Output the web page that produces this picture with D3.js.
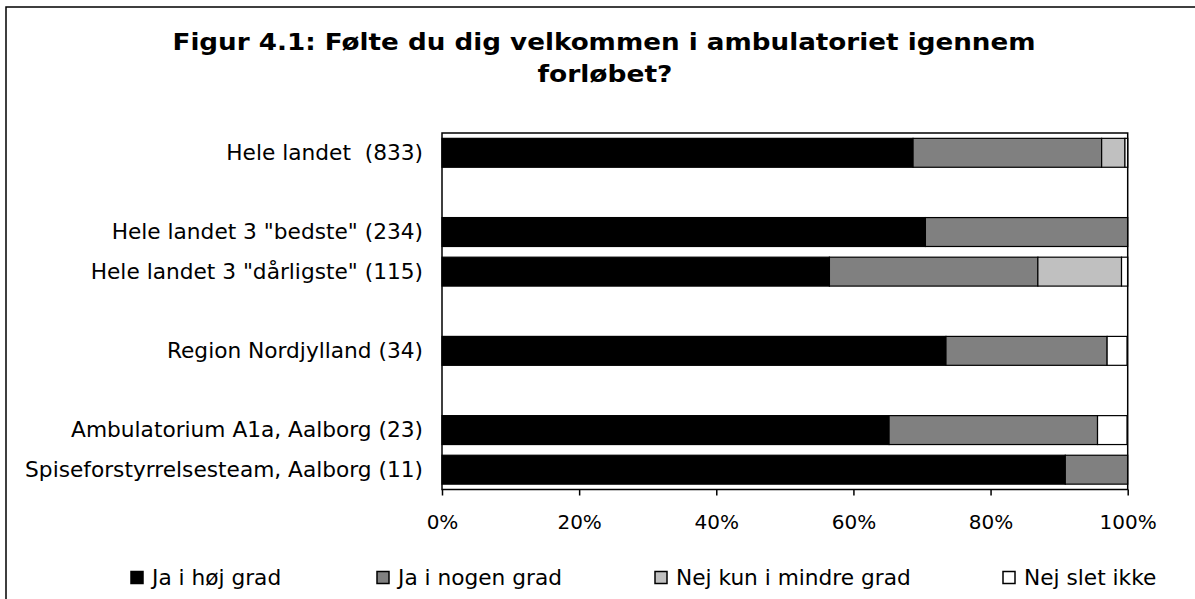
<!DOCTYPE html>
<html>
<head>
<meta charset="utf-8">
<script src="https://cdn.jsdelivr.net/npm/d3@7"></script>
<style>
  body { margin: 0; background: #fff; }
  svg text { font-family: "DejaVu Sans", Verdana, sans-serif; fill: #000; white-space: pre; }
</style>
</head>
<body>
<div id="chart"></div>
<script>
  // categories, blank strings are the empty gaps between groups
  var categories = [
    'Hele landet  (833)',
    '',
    'Hele landet 3 "bedste" (234)',
    'Hele landet 3 "dårligste" (115)',
    '',
    'Region Nordjylland (34)',
    '',
    'Ambulatorium A1a, Aalborg (23)',
    'Spiseforstyrrelsesteam, Aalborg (11)'
  ];

  // percent per answer
  var jaHoej    = [68.7, 0, 70.5, 56.5, 0, 73.5, 0, 65.2, 90.9];
  var jaNogen   = [27.5, 0, 29.5, 30.4, 0, 23.5, 0, 30.4, 9.1];
  var nejMindre = [3.4,  0, 0,    12.2, 0, 0,    0, 0,    0];
  var nejSlet   = [0.4,  0, 0,    0.9,  0, 2.9,  0, 4.3,  0];

  var seriesNames = ['Ja i høj grad', 'Ja i nogen grad', 'Nej kun i mindre grad', 'Nej slet ikke'];
  var seriesColors = ['#000000', '#808080', '#c0c0c0', '#ffffff'];
  var tickValues = [0, 20, 40, 60, 80, 100];

  var width = 1195,
    height = 599;

  var svg = d3.select('#chart')
    .append('svg')
    .attr('width', width)
    .attr('height', height);

  // outer frame (right and bottom edges fall outside the picture)
  svg.append('rect')
    .attr('x', 6)
    .attr('y', 7)
    .attr('width', 1300)
    .attr('height', 700)
    .attr('fill', 'none')
    .attr('stroke', '#000')
    .attr('stroke-width', 1.5);

  // title, stretched a bit since the original font is wider
  var title = svg.append('text')
    .attr('text-anchor', 'middle')
    .attr('font-weight', 'bold')
    .attr('font-size', 23.5);
  title.append('tspan').attr('x', 604).attr('y', 50)
    .attr('textLength', 863).attr('lengthAdjust', 'spacingAndGlyphs')
    .text('Figur 4.1: Følte du dig velkommen i ambulatoriet igennem');
  title.append('tspan').attr('x', 605).attr('y', 82)
    .attr('textLength', 135).attr('lengthAdjust', 'spacingAndGlyphs')
    .text('forløbet?');

  var x = d3.scaleLinear()
    .domain([0, 100])
    .range([442, 1127.7]);

  var y = d3.scaleBand()
    .domain(d3.range(categories.length))
    .range([133, 489.5])
    .paddingInner(0.27)
    .paddingOuter(0.135);

  // stack the four answers
  var rows = categories.map(function(c, i) {
    return { i: i, s0: jaHoej[i], s1: jaNogen[i], s2: nejMindre[i], s3: nejSlet[i] };
  });
  var stack = d3.stack().keys(['s0', 's1', 's2', 's3']);
  var layers = stack(rows);

  var groups = svg.append('g')
    .selectAll('g')
    .data(layers)
    .enter()
    .append('g')
    .attr('fill', function(d, k) { return seriesColors[k]; });

  groups.selectAll('rect')
    .data(function(d) { return d.filter(function(p) { return p[1] - p[0] > 0; }); })
    .enter()
    .append('rect')
    .attr('x', function(p) { return x(p[0]); })
    .attr('y', function(p) { return y(p.data.i); })
    .attr('width', function(p) { return x(p[1]) - x(p[0]); })
    .attr('height', y.bandwidth())
    .attr('stroke', '#000')
    .attr('stroke-width', 1.2);

  // plot area border
  svg.append('rect')
    .attr('x', x(0))
    .attr('y', 133)
    .attr('width', x(100) - x(0))
    .attr('height', 489.5 - 133)
    .attr('fill', 'none')
    .attr('stroke', '#000')
    .attr('stroke-width', 1.5);

  // x axis
  var xAxis = svg.append('g')
    .attr('transform', 'translate(0,489.5)')
    .call(d3.axisBottom(x)
      .tickValues(tickValues)
      .tickFormat(function(d) { return d + '%'; })
      .tickSize(6)
      .tickPadding(19));
  xAxis.select('.domain').remove();
  xAxis.selectAll('line').attr('stroke', '#000').attr('stroke-width', 1.5);
  xAxis.selectAll('text').attr('font-size', 20).attr('font-family', '"DejaVu Sans", Verdana, sans-serif');

  // category labels
  var yAxis = svg.append('g')
    .attr('transform', 'translate(' + x(0) + ',0)')
    .call(d3.axisLeft(y)
      .tickFormat(function(i) { return categories[i]; })
      .tickSize(0)
      .tickPadding(19));
  yAxis.select('.domain').remove();
  yAxis.selectAll('text').attr('font-size', 21.7).attr('font-family', '"DejaVu Sans", Verdana, sans-serif');

  // legend
  var legendX = [131, 377, 655, 1003];
  var legend = svg.append('g');
  seriesNames.forEach(function(name, k) {
    legend.append('rect')
      .attr('x', legendX[k])
      .attr('y', 571.5)
      .attr('width', 12)
      .attr('height', 12)
      .attr('fill', seriesColors[k])
      .attr('stroke', '#000')
      .attr('stroke-width', 1.5);
    legend.append('text')
      .attr('x', legendX[k] + 21)
      .attr('y', 585)
      .attr('font-size', 21.7)
      .text(name);
  });
</script>
</body>
</html>
